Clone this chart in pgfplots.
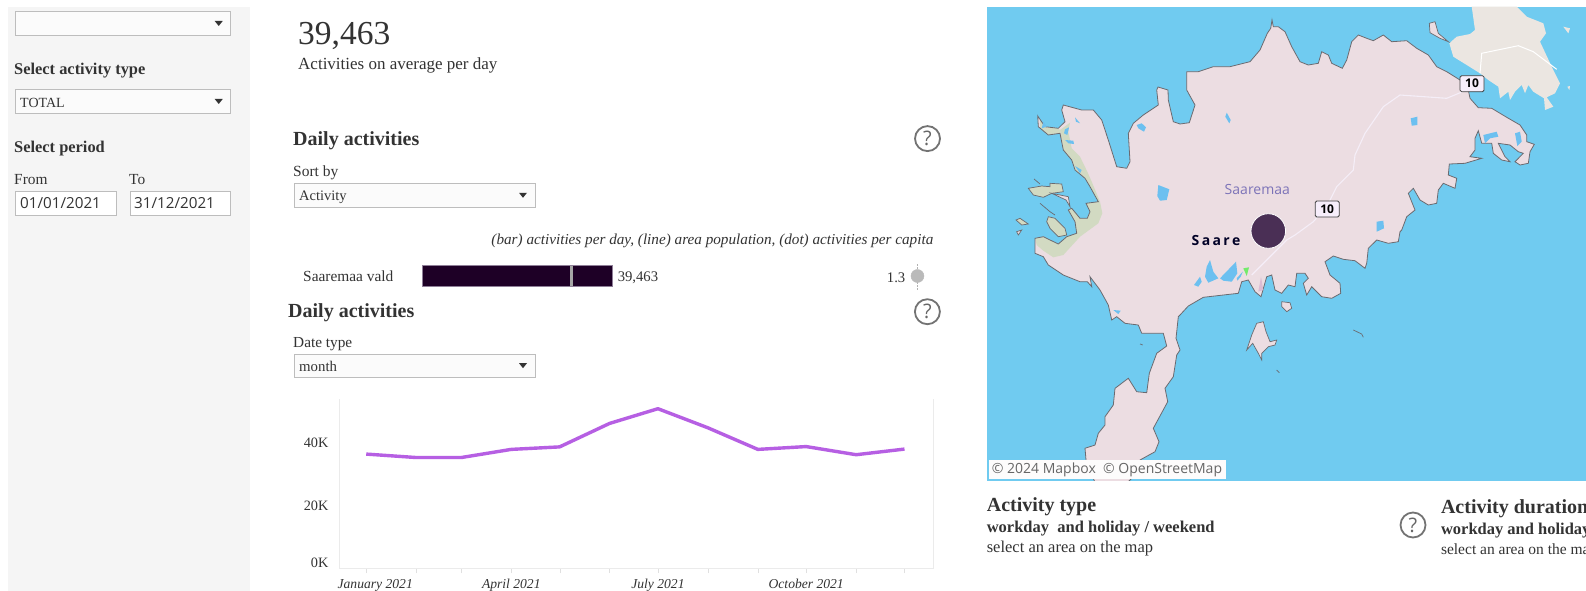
\documentclass[border=0pt]{standalone}
\usepackage{fontspec}
\setmainfont{Liberation Serif}
\newfontfamily\uisans{Open Sans}
\usepackage{pgfplots}
\usepackage{pgfplotstable}
\pgfplotsset{compat=1.18}
\definecolor{txt}{HTML}{333333}
\definecolor{panel}{HTML}{F5F5F5}
\definecolor{boxline}{HTML}{BDBDBD}
\definecolor{linepurple}{HTML}{B65FE3}
\definecolor{barfill}{HTML}{1E0026}
\definecolor{barline}{HTML}{8F7F98}
\definecolor{water}{HTML}{70CBF0}
\definecolor{land}{HTML}{ECDDE2}
\definecolor{muhu}{HTML}{EBE6E1}
\definecolor{greenland}{HTML}{D2DAC2}
\definecolor{lake}{HTML}{6CC0F0}
\definecolor{coast}{HTML}{6A6A70}
\definecolor{marker}{HTML}{4A2F55}
\definecolor{placeblue}{HTML}{7C73B8}
\definecolor{shield}{HTML}{F7EEFB}
\definecolor{road}{HTML}{F5EEF8}
\newcommand{\fs}[1]{\fontsize{#1}{#1}\selectfont}
% 1pt = 1 reference pixel
\newcommand{\dropdown}[4]{%
  \draw[boxline,fill=white!60!panel,line width=1pt] (#1,#2) rectangle (#3,#4);
  \fill[black!80] ({#3-16},{(#2+#4)/2-2.5}) -- ({#3-8},{(#2+#4)/2-2.5}) -- ({#3-12},{(#2+#4)/2+2.5}) -- cycle;}
\newcommand{\helpicon}[2]{%
  \draw[black!55,line width=1.8pt] (#1,#2) circle (12.5);
  \node[anchor=center,yshift=2pt,text=black!60,font=\uisans\fs{20}] at (#1,#2) {?};}

% Saaremaa coastline, traced in reference pixels
\pgfplotstableread{
x y
1267.3 33.3
1270.7 28.3
1272 20
1273.3 26.7
1278.3 26.7
1285 31.7
1291.7 46.7
1300 61.7
1308.3 65
1318.3 63.3
1321.7 51.7
1328.3 55
1331.7 63.3
1342.3 68.3
1346.7 60
1351.7 41.7
1358.3 35
1366.7 38.3
1373.3 40.7
1383.3 35
1391.7 41.7
1406.7 40.7
1416.7 48.3
1428.3 55
1436.7 66.7
1446.7 71.7
1460 80
1468.3 90
1470 98.3
1478.3 107.7
1491.7 108.3
1506.7 117.3
1520 125
1526.7 135
1526.7 141.7
1534.3 144.3
1530 151.7
1528.3 163.3
1520 165
1515 161.7
1523.3 153.3
1518.3 151.7
1510 145
1498.3 143.3
1505 156.7
1510 161.7
1501.7 160
1493.3 153.3
1491.7 143.3
1481.7 143.3
1478.3 130.7
1475 138.3
1475 150
1470 156.7
1481.7 158.3
1465 163.3
1449.3 164
1448.3 175
1456.7 178.3
1455 188.3
1443.3 183.3
1438.3 190
1436.7 203.3
1428.3 205
1420 200
1413.3 188.3
1408.3 193.3
1415 210
1406.7 216.7
1401.7 230
1400 231.7
1398.3 241.7
1388.3 243.3
1376.7 240
1368.3 248.3
1366.7 263.3
1365 268.3
1355 260.7
1343.3 259.3
1333.3 256
1325 261.7
1330 275
1340 283.3
1340.7 293.3
1331.7 298.3
1321.7 296.7
1311.7 286.7
1306.7 295
1303.3 283.3
1308.3 278.3
1305 273.3
1296.7 273.3
1295 286.7
1288.3 285
1281.7 293.3
1275 290
1271.7 275
1266.7 276.7
1261 296.7
1255 291.7
1248.3 280
1241.7 281.7
1238.3 293.3
1223.3 295
1203.3 297.3
1188.3 306
1180 315
1178.3 316.7
1176 338.3
1180 350
1176.7 355
1173.3 376.7
1165 388.3
1167.7 401.7
1153.3 428.3
1159 441.7
1155 451.7
1140 460
1135 475
1125 485
1096 485
1086 460
1085 448.3
1095 445
1098.3 433.3
1105 425
1105 416.7
1113.3 405
1115 388.3
1128.3 378.3
1136.7 391.7
1146.7 392.7
1149.3 373.3
1156.7 353.3
1166.7 346
1163.3 333.3
1141.7 333.3
1138.3 325
1125 323.3
1116.7 316.7
1111.7 320
1108.3 305
1100 290
1090 276.7
1091.7 286.7
1087.3 281.7
1080 281.7
1063.3 275
1048.3 265
1043.3 256.7
1035 253.3
1035 238.3
1043.3 236.7
1058.3 244
1066.7 236.7
1076.7 233.3
1075 221.7
1068.3 210
1071.7 208.3
1080 218.3
1087.3 218.3
1090 211.7
1086 203.3
1098.3 201.7
1090 186.7
1085 178.3
1075 170
1071.7 160
1063.3 150
1060 133.3
1048.3 135
1038.3 126.7
1037.7 116
1045 126.7
1058.3 128.3
1065 121.7
1061.7 110
1063.3 105
1081.7 110
1093.3 110
1101.7 120
1108.3 140
1116.7 166.7
1126.7 168.3
1130 161.7
1128.3 133.3
1133.3 123.3
1143.3 115
1158.3 105
1156.7 90
1158 87
1168 90
1168.3 100
1173.3 121.7
1180 124
1189.3 122.7
1195 105
1186.7 90
1186.7 71.7
1198.3 71.7
1213.3 66.7
1230 66.7
1250 61.7
1260 50
}\coastdata

\begin{document}
\begin{tikzpicture}[x=1pt,y=1pt]
\path[use as bounding box,clip] (0,0) rectangle (1586,-591);
\fill[white] (0,0) rectangle (1586,-591);

\begin{scope}[y=-1pt,every node/.style={anchor=west,inner sep=0pt,text=txt,yshift=-2pt}]
  % filter panel
  \fill[panel] (8,7) rectangle (250,591);
  \dropdown{15.7}{11.3}{230.7}{35.7}
  \node[font=\bfseries\fs{16.4}] at (14,69) {Select activity type};
  \dropdown{15.7}{89.3}{230.7}{113.7}
  \node[font=\fs{14}] at (20,100.5) {TOTAL};
  \node[font=\bfseries\fs{16.4}] at (14,147) {Select period};
  \node[font=\fs{15.4}] at (14,178) {From};
  \node[font=\fs{15.4}] at (129,178) {To};
  \draw[boxline,fill=white,line width=1pt] (15.7,191) rectangle (116.7,215);
  \draw[boxline,fill=white,line width=1pt] (130,191) rectangle (230.7,215);
  \node[font=\uisans\fs{15.2}] at (20,201.5) {01/01/2021};
  \node[font=\uisans\fs{15.2}] at (134,201.5) {31/12/2021};
  % headline number
  \node[font=\fs{33.5}] at (298,33.5) {39,463};
  \node[font=\fs{17}] at (298,63.5) {Activities on average per day};
  % bar section
  \node[font=\bfseries\fs{20}] at (293,138.5) {Daily activities};
  \helpicon{927.5}{138.6}
  \node[font=\fs{15.5}] at (293,171) {Sort by};
  \dropdown{294.3}{183.3}{535}{207.3}
  \node[font=\fs{14.5}] at (299,195.5) {Activity};
  \node[anchor=east,font=\itshape\fs{15.2}] at (933.5,239) {(bar) activities per day, (line) area population, (dot) activities per capita};
  \node[font=\fs{15.4}] at (303,274) {Saaremaa vald};
  % line section
  \node[font=\bfseries\fs{20}] at (288,310.7) {Daily activities};
  \helpicon{927.4}{311.7}
  \node[font=\fs{15.3}] at (293,341.7) {Date type};
  \dropdown{294.3}{354}{535}{377.3}
  \node[font=\fs{14.8}] at (299,364) {month};
  % captions under the map
  \node[font=\bfseries\fs{20}] at (986.6,505) {Activity type};
  \node[font=\bfseries\fs{16.5}] at (986.6,527) {workday\ \ and holiday / weekend};
  \node[font=\fs{16.5}] at (986.6,547) {select an area on the map};
  \helpicon{1413}{525}
  \node[font=\bfseries\fs{20}] at (1440.8,507) {Activity duration};
  \node[font=\bfseries\fs{16.5}] at (1440.8,529) {workday and holiday / weekend};
  \node[font=\fs{15.5}] at (1440.8,549) {select an area on the map};
\end{scope}

% bar: activities per day, with area population line
\begin{axis}[
  at={(421.8pt,-261pt)},anchor=north west,
  width=190.2pt,height=30pt,scale only axis,
  xmin=0,xmax=39463,ymin=-1,ymax=1,
  hide axis,clip=false,
]
\addplot[xbar,bar width=20.6pt,draw=barline,line width=0.5pt,fill=barfill,
  nodes near coords={39,463},
  every node near coord/.style={anchor=west,xshift=3.5pt,yshift=-1.5pt,font=\fs{14.7},text=txt,inner sep=2pt}]
  coordinates {(39463,0)};
\addplot[draw=black!35!white,line width=2.2pt] coordinates {(31040,-0.69) (31040,0.69)};
\end{axis}

% dot: activities per capita
\begin{axis}[
  at={(800.9pt,-261pt)},anchor=north west,
  width=134.5pt,height=30pt,scale only axis,
  xmin=0,xmax=1.5,ymin=-1,ymax=1,
  hide axis,clip=false,
]
\addplot[densely dotted,draw=black!30!white,line width=0.5pt] coordinates {(1.3,-0.9) (1.3,0.9)};
\addplot[only marks,mark=*,mark size=6.5pt,mark options={fill=black!27!white,draw=black!27!white},
  nodes near coords={1.3},
  every node near coord/.style={anchor=east,xshift=-10pt,yshift=-1.5pt,font=\fs{14.7},text=txt,inner sep=2pt}]
  coordinates {(1.3,0)};
\end{axis}

% monthly line chart
\begin{axis}[
  at={(339pt,-399pt)},anchor=north west,
  width=594.5pt,height=169pt,scale only axis,
  xmin=-16.9,xmax=352,ymin=0,ymax=54,
  axis x line*=bottom,axis y line*=left,
  axis line style={draw=black!8},
  tick align=outside,major tick length=5pt,
  xtick={0,31,59,90,120,151,181,212,243,273,304,334},
  xticklabels={\hspace{18pt}January 2021,,,April 2021,,,July 2021,,,October 2021,,},
  x tick style={draw=black!12},
  xticklabel style={font=\itshape\fs{13.6},text=txt,yshift=-3pt},
  ytick={0,20,40},
  yticklabels={\raisebox{11pt}{0K},20K,40K},
  y tick style={draw=none},
  yticklabel style={font=\fs{14.3},text=txt,xshift=-2pt},
  clip=false,
]
\draw[black!8] (rel axis cs:1,0) -- (rel axis cs:1,1);
\addplot[linepurple,line width=3.4pt,line join=round,no markers] coordinates {
  (0,36.4) (31,35.3) (59,35.3) (90,37.9) (120,38.7) (151,46.2)
  (181,50.9) (212,44.8) (243,37.9) (273,38.8) (304,36.2) (334,38.0)};
\end{axis}

% map, axis units are reference pixels
\begin{axis}[
  at={(987pt,-6.8pt)},anchor=north west,
  width=599pt,height=474pt,scale only axis,
  xmin=987,xmax=1586,ymin=6.8,ymax=480.8,y dir=reverse,
  hide axis,no markers,
]
\fill[water] (axis cs:987,6.8) rectangle (axis cs:1586,480.8);
% Muhu
\addplot[fill=muhu,draw=none] coordinates {(1471.7,6.7) (1516.7,6.7) (1526.7,16.7) (1543.3,23.3) (1546,33.3) (1540,41.7) (1551.7,66.7) (1560,83.3) (1555,93.3) (1546.7,97.3) (1553.3,106.7) (1545,110) (1544,98.3) (1533.3,91.7) (1528.3,85) (1525,93.3) (1521.7,85) (1515,91.7) (1510,100) (1508.3,91.7) (1500,98.3) (1498.3,86.7) (1488.3,80) (1480,73.3) (1466.7,65) (1453.3,56.7) (1449.3,43.3) (1456.7,36.7) (1470,34) (1475,30)} --cycle;
\addplot[fill=muhu,draw=none] coordinates {(1563.3,26.7) (1570,28.3) (1568.3,33.3)} --cycle;
\addplot[fill=muhu,draw=none] coordinates {(1567.3,86.7) (1570,86) (1569.3,90)} --cycle;
\addplot[draw=white,line width=1pt] coordinates {(1480,73.3) (1481.7,53.3) (1518.3,45.7) (1533.3,51.7) (1556.7,69.3)};
% Saaremaa fill
\addplot[fill=land,draw=none] table {\coastdata} --cycle;
% green coastal belts
\addplot[fill=greenland,draw=none] coordinates {(1060,130) (1070,122.7) (1068.3,131.7) (1071.7,148.3) (1080,156.7) (1087.3,171.7) (1091.7,181.7) (1100,201.7) (1102.3,213.3) (1098.3,223.3) (1080,236.7) (1063.3,255) (1053.3,257.3) (1043.3,250.7) (1036.7,245) (1035,238.3) (1043.3,236.7) (1058.3,244) (1066.7,236.7) (1076.7,233.3) (1075,221.7) (1068.3,210) (1071.7,208.3) (1080,218.3) (1087.3,218.3) (1090,211.7) (1086,203.3) (1098.3,201.7) (1090,186.7) (1085,178.3) (1075,170) (1071.7,160) (1063.3,150)} --cycle;
\addplot[fill=greenland,draw=none] coordinates {(1040,120) (1045,127) (1058,128.5) (1060,130) (1060,133) (1048.3,135) (1040,128)} --cycle;
% coastline on top
\addplot[draw=coast,line width=0.8pt] table {\coastdata} --cycle;
% west islets
\addplot[fill=greenland,draw=coast,line width=0.7pt] coordinates {(1028.3,188.3) (1041.7,186) (1050,186.7) (1050,183.3) (1061.7,184) (1063.3,191.7) (1051.7,193.3) (1043.3,197.3) (1033.3,195)} --cycle;
\addplot[fill=land,draw=coast,line width=0.7pt] coordinates {(1051.7,193.3) (1068.3,196.7) (1070,206.7) (1066,200)} --cycle;
\addplot[fill=greenland,draw=coast,line width=0.7pt] coordinates {(1048.3,216.7) (1055,218.3) (1065,228.3) (1066.7,235) (1058.3,236.7) (1050,228.3) (1046.7,221.7)} --cycle;
\addplot[fill=greenland,draw=coast,line width=0.7pt] coordinates {(1016,220) (1020,218.3) (1028.3,224) (1021.7,225)} --cycle;
\addplot[fill=land,draw=coast,line width=0.7pt] coordinates {(1016.7,231.7) (1021.7,230) (1018.3,235)} --cycle;
\addplot[draw=coast,line width=0.7pt] coordinates {(1040,203.3) (1050,211.7) (1055,215)};
\addplot[draw=coast,line width=0.7pt] coordinates {(1034,179) (1040,184)};
% offshore islands
\addplot[fill=land,draw=coast,line width=0.7pt] coordinates {(1256.7,323.3) (1263.3,321.7) (1266,331.7) (1270,341.7) (1276.7,340) (1275,345) (1268.3,346.7) (1261.7,353.3) (1261.7,360) (1258.3,353.3) (1252.7,343.3) (1246.7,350) (1251.7,335)} --cycle;
\addplot[fill=land,draw=coast,line width=0.7pt] coordinates {(1281.7,301.7) (1290,302.7) (1291.7,308.3) (1286.7,311.7) (1281.7,306.7)} --cycle;
\addplot[fill=land,draw=coast,line width=0.7pt] coordinates {(1429.3,23.3) (1435,21.7) (1438.3,33.3) (1448.3,41.7) (1440,38.3) (1430,32.7)} --cycle;
\addplot[draw=coast,line width=0.7pt] coordinates {(1353.3,330) (1361.7,334) (1363.3,337.3)};
\addplot[draw=coast,line width=0.7pt] coordinates {(1276.7,370) (1279.3,372.7)};
\addplot[draw=coast,line width=0.7pt] coordinates {(1140,344) (1142.7,345)};
% lakes
\addplot[fill=lake,draw=none] coordinates {(1158.3,185) (1169.3,189.3) (1166.7,200) (1160,200.7) (1157.3,196)} --cycle;
\addplot[fill=lake,draw=none] coordinates {(1226.7,112.7) (1230.7,120) (1229.3,123.3) (1225.3,116.7)} --cycle;
\addplot[fill=lake,draw=none] coordinates {(1136.7,125) (1141.7,123.3) (1146,127.3) (1144,131.7) (1138.3,128.3)} --cycle;
\addplot[fill=lake,draw=none] coordinates {(1075,117.3) (1080,123.3) (1076,121.7)} --cycle;
\addplot[fill=lake,draw=none] coordinates {(1065,129.3) (1069,127.3) (1067.3,135) (1064,133.3)} --cycle;
\addplot[fill=lake,draw=none] coordinates {(1065,140) (1073.3,140.7) (1074,144) (1068.3,143.3)} --cycle;
\addplot[fill=lake,draw=none] coordinates {(1075,166) (1081.7,170) (1080,173.3)} --cycle;
\addplot[fill=lake,draw=none] coordinates {(1043.3,121.7) (1046.7,126.7) (1041.7,128.3)} --cycle;
\addplot[fill=lake,draw=none] coordinates {(1210,260) (1213.3,271.7) (1218.3,278.3) (1208.3,282.7) (1205,276.7) (1206.7,266.7)} --cycle;
\addplot[fill=lake,draw=none] coordinates {(1220,278.3) (1236,261.7) (1237.3,273.3) (1231.7,281.7) (1223.3,280.7)} --cycle;
\addplot[fill=lake,draw=none] coordinates {(1236.7,278.3) (1242.7,271.7) (1240.7,276.7) (1237.3,280.7)} --cycle;
\addplot[fill=lake,draw=none] coordinates {(1194,285) (1200,276.7) (1201.7,281.7) (1198.3,286.7)} --cycle;
\addplot[fill=lake,draw=none] coordinates {(1410.7,118.3) (1417.3,116.7) (1417.3,125) (1411.7,125.7)} --cycle;
\addplot[fill=lake,draw=none] coordinates {(1483.3,135) (1496.7,131.7) (1498.3,136.7) (1490,138.3) (1485,143.3)} --cycle;
\addplot[fill=lake,draw=none] coordinates {(1515,133.3) (1520,131.7) (1521.7,141.7) (1517.3,146)} --cycle;
\addplot[fill=lake,draw=none] coordinates {(1376.7,221.7) (1383.3,220.7) (1384,228.3) (1376.7,231.7)} --cycle;
\addplot[fill=lake,draw=none] coordinates {(1113.3,310) (1120.7,310.7) (1118.3,314)} --cycle;
\addplot[fill=green!45!greenland,draw=none] coordinates {(1243.3,268.3) (1249,267.3) (1246.7,276)} --cycle;
\addplot[fill=violet!15!land,draw=none] coordinates {(1261,276.7) (1263.3,290) (1258.3,291.7)} --cycle;
% road
\addplot[draw=road,line width=1.1pt] coordinates {(1251.7,275) (1286.7,240) (1295,235) (1313.3,221.7) (1326.7,206.7) (1336.7,186.7) (1353.3,170) (1355,155) (1365,133.3) (1383.3,106.7) (1400,95) (1446.7,98.3) (1466.7,90)};
% place marker
\addplot[only marks,mark=*,mark size=17.3pt,mark options={fill=marker,draw=white,line width=0.8pt}] coordinates {(1268.3,231)};
\node[text=placeblue,font=\uisans\fs{14}] at (axis cs:1257.3,189) {Saaremaa};
\node[text=black!85!blue,font=\uisans\bfseries\fs{14}] at (axis cs:1216,240.3) {S\,a\,a\,r\,e};
\node[draw=black!75,fill=shield,rounded corners=1.5pt,line width=0.8pt,inner sep=1.5pt,minimum width=24pt,minimum height=16pt,font=\uisans\bfseries\fs{12}] at (axis cs:1327.2,209) {10};
\node[draw=black!75,fill=shield,rounded corners=1.5pt,line width=0.8pt,inner sep=1.5pt,minimum width=24pt,minimum height=16pt,font=\uisans\bfseries\fs{12}] at (axis cs:1472,83.7) {10};
% attribution
\fill[white!90!land] (axis cs:989,460) rectangle (axis cs:1225.7,479);
\node[anchor=west,text=black!60,font=\uisans\fs{14},inner sep=0pt] at (axis cs:991.6,469.5) {\textcopyright\ 2024 Mapbox\ \ \textcopyright\ OpenStreetMap};
\end{axis}
\end{tikzpicture}
\end{document}
